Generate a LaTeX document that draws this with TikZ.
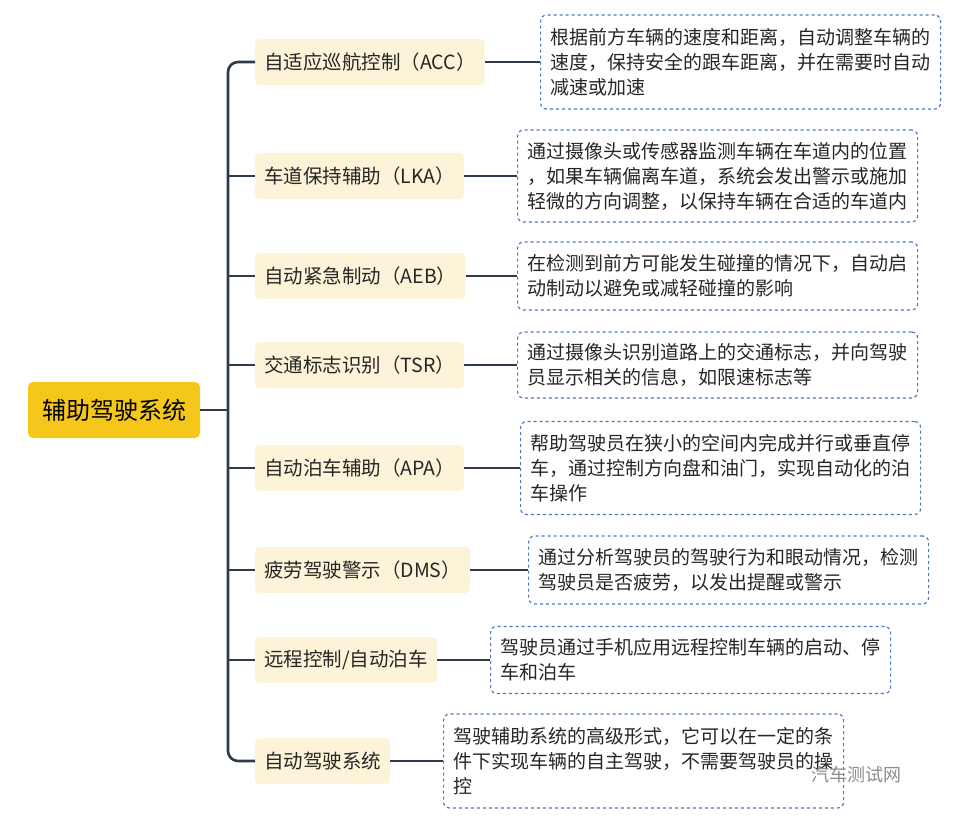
\documentclass[tikz,border=0pt]{standalone}
\usepackage{fontspec}
\setmainfont{Noto Sans CJK SC}
\usetikzlibrary{positioning}
\definecolor{rootyellow}{HTML}{F5C71A}
\definecolor{branchfill}{HTML}{FDF3D8}
\definecolor{linkline}{HTML}{2E3A4E}
\definecolor{descblue}{HTML}{4A78C2}
\tikzset{
  topic/.style={fill=branchfill, rounded corners=4pt, anchor=west, inner xsep=9pt,
    minimum height=46pt, font=\fontsize{19.5}{22}\selectfont, text=black!85},
  desc/.style={draw=descblue, dashed, line width=1.2pt, rounded corners=6pt, anchor=west,
    align=left, inner xsep=10pt, font=\fontsize{19}{25}\selectfont, text=black!85},
  link/.style={draw=linkline, line width=2.6pt}
}
\begin{document}
\begin{tikzpicture}[x=1pt,y=-1pt]
\useasboundingbox (0,0) rectangle (960,816);

% root
\node[fill=rootyellow, rounded corners=5pt, minimum width=172pt, minimum height=56pt,
  font=\fontsize{24}{28}\selectfont] (root) at (114,410) {辅助驾驶系统};

% branches and descriptions
\foreach \i/\y/\dx/\dh/\t/\d in {
  1/62/540/94/{自适应巡航控制（ACC）}/{根据前方车辆的速度和距离，自动调整车辆的\\速度，保持安全的跟车距离，并在需要时自动\\减速或加速},
  2/176/517/92/{车道保持辅助（LKA）}/{通过摄像头或传感器监测车辆在车道内的位置\\，如果车辆偏离车道，系统会发出警示或施加\\轻微的方向调整，以保持车辆在合适的车道内},
  3/276/517/68/{自动紧急制动（AEB）}/{在检测到前方可能发生碰撞的情况下，自动启\\动制动以避免或减轻碰撞的影响},
  4/365/517/66/{交通标志识别（TSR）}/{通过摄像头识别道路上的交通标志，并向驾驶\\员显示相关的信息，如限速标志等},
  5/468/520/93/{自动泊车辅助（APA）}/{帮助驾驶员在狭小的空间内完成并行或垂直停\\车，通过控制方向盘和油门，实现自动化的泊\\车操作},
  6/570/528/68/{疲劳驾驶警示（DMS）}/{通过分析驾驶员的驾驶行为和眼动情况，检测\\驾驶员是否疲劳，以发出提醒或警示},
  7/660/490/67/{远程控制/自动泊车}/{驾驶员通过手机应用远程控制车辆的启动、停\\车和泊车},
  8/761/443/94/{自动驾驶系统}/{驾驶辅助系统的高级形式，它可以在一定的条\\件下实现车辆的自主驾驶，不需要驾驶员的操\\控}} {
  \node[topic] (b\i) at (255,\y) {\t};
  \node[desc, minimum height=\dh pt] (d\i) at (\dx,\y) {\d};
  \coordinate (s\i) at (228,\y);
  \draw[link] (b\i.east) -- (d\i.west);
}

% spine
\coordinate (sroot) at (228,410);
\draw[link] (root.east) -- (sroot);
\draw[link, rounded corners=10pt] (b1.west) -- (s1) -- (s8) -- (b8.west);
\foreach \i in {2,...,7} \draw[link] (s\i) -- (b\i.west);

% watermark
\node[text=black!45, font=\fontsize{18}{20}\selectfont, anchor=west] (mark) at (808,775) {汽车测试网};
\end{tikzpicture}
\end{document}
